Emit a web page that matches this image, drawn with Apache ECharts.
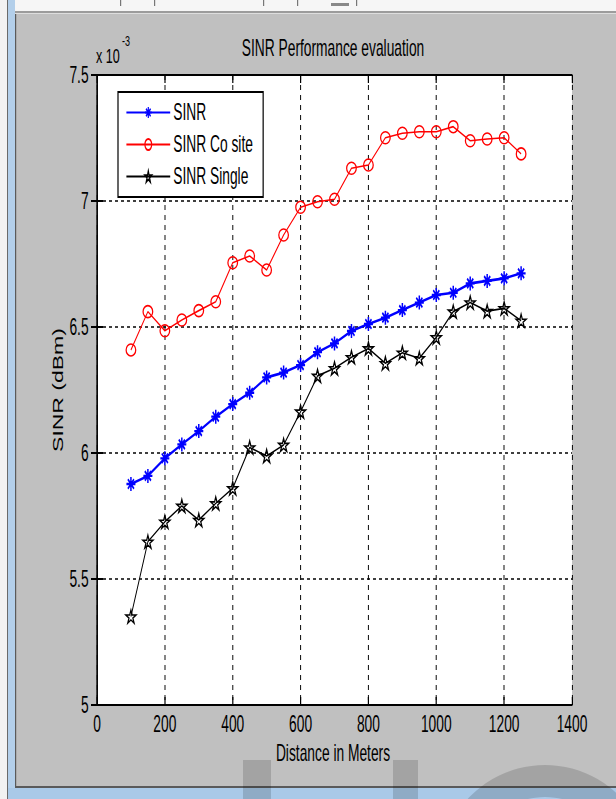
<!DOCTYPE html>
<html>
<head>
<meta charset="utf-8">
<script src="https://cdn.jsdelivr.net/npm/echarts@6/dist/echarts.min.js"></script>
<style>
html, body { margin: 0; padding: 0; overflow: hidden; background: #c0c0c0; width: 616px; height: 799px; }
#chart { width: 1027px; height: 799px; transform: scaleX(0.6); transform-origin: 0 0; }
</style>
</head>
<body>
<div id="chart"></div>
<script>
// ---- data (values are in units of 1e-3) ----
const distances = [100, 150, 200, 250, 300, 350, 400, 450, 500, 550, 600, 650, 700, 750, 800, 850, 900, 950, 1000, 1050, 1100, 1150, 1200, 1250];
const sinr       = [5.877, 5.909, 5.979, 6.034, 6.087, 6.144, 6.194, 6.239, 6.300, 6.319, 6.349, 6.400, 6.435, 6.484, 6.512, 6.537, 6.567, 6.597, 6.627, 6.636, 6.673, 6.683, 6.693, 6.713];
const sinrCoSite = [6.409, 6.561, 6.485, 6.528, 6.565, 6.600, 6.755, 6.782, 6.726, 6.865, 6.975, 6.997, 7.007, 7.130, 7.143, 7.251, 7.269, 7.275, 7.275, 7.295, 7.239, 7.246, 7.251, 7.187];
const sinrSingle = [5.351, 5.648, 5.727, 5.790, 5.734, 5.800, 5.860, 6.022, 5.988, 6.032, 6.164, 6.306, 6.336, 6.380, 6.415, 6.356, 6.398, 6.376, 6.459, 6.561, 6.597, 6.563, 6.574, 6.525];
const seriesNames = ['SINR', 'SINR Co site', 'SINR Single'];
const xMin = 0, xMax = 1400, xStep = 200;
const yMin = 5, yMax = 7.5, yStep = 0.5;
const titleText = 'SINR Performance evaluation';
const xName = 'Distance in Meters';
const yName = 'SINR (dBm)';

// ---- drawing ----
const K = 0.6; // horizontal compression applied by CSS
const FONT = '"Liberation Sans", Arial, Helvetica, sans-serif';
const X = v => v / K;

const asterisk = 'path://M5,0 L5,10 M0,5 L10,5 M1.6,1.6 L8.4,8.4 M1.6,8.4 L8.4,1.6';
const ellipse = 'path://M10,0 A10,10 0 1,1 10,20 A10,10 0 1,1 10,0 Z';
const star = 'path://M10,0 L12.245,6.91 L19.51,6.91 L13.63,11.18 L15.88,18.09 L10,13.82 L4.12,18.09 L6.37,11.18 L0.49,6.91 L7.755,6.91 Z';

const pairs = arr => distances.map((d, i) => [d, arr[i]]);
const dash = [5, 5];
const plain = v => String(v);

const chart = echarts.init(document.getElementById('chart'), null, { renderer: 'svg' });

chart.setOption({
  animation: false,
  backgroundColor: '#c0c0c0',
  grid: { left: X(97), right: 1027 - X(572), top: 75, bottom: 94, show: true, backgroundColor: '#fff', borderWidth: 0 },
  legend: {
    data: seriesNames,
    orient: 'vertical',
    left: X(118), top: 92,
    backgroundColor: '#fff', borderColor: '#000', borderWidth: 2,
    padding: [9, 17, 9, 13],
    itemWidth: 73, itemHeight: 14, itemGap: 9,
    textStyle: { fontFamily: FONT, fontSize: 23, color: '#000' }
  },
  xAxis: [
    {
      type: 'value', min: xMin, max: xMax, interval: xStep, position: 'bottom',
      axisLine: { show: true, lineStyle: { color: '#000', width: 2 } },
      axisTick: { show: true, inside: true, length: 8, lineStyle: { color: '#000', width: 2 } },
      axisLabel: { color: '#000', fontFamily: FONT, fontSize: 23, margin: 8, formatter: plain },
      splitLine: { show: true, lineStyle: { color: '#000', width: 1.6, type: dash } }
    },
    {
      type: 'value', min: xMin, max: xMax, interval: xStep, position: 'top',
      axisLine: { show: true, lineStyle: { color: '#000', width: 2 } },
      axisTick: { show: true, inside: true, length: 8, lineStyle: { color: '#000', width: 2 } },
      axisLabel: { show: false }, splitLine: { show: false }
    }
  ],
  yAxis: [
    {
      type: 'value', min: yMin, max: yMax, interval: yStep, position: 'left',
      axisLine: { show: true, lineStyle: { color: '#000', width: 2 } },
      axisTick: { show: true, inside: true, length: 10, lineStyle: { color: '#000', width: 2 } },
      axisLabel: { color: '#000', fontFamily: FONT, fontSize: 23, margin: 14, formatter: plain },
      splitLine: { show: true, lineStyle: { color: '#000', width: 1.6, type: dash } }
    },
    {
      type: 'value', min: yMin, max: yMax, interval: yStep, position: 'right',
      axisLine: { show: true, lineStyle: { color: '#000', width: 2 } },
      axisTick: { show: true, inside: true, length: 10, lineStyle: { color: '#000', width: 2 } },
      axisLabel: { show: false }, splitLine: { show: false }
    }
  ],
  series: [
    {
      name: seriesNames[0], type: 'line', data: pairs(sinr), showAllSymbol: true,
      symbol: asterisk, symbolSize: [15, 14],
      lineStyle: { color: '#0000ff', width: 2.6 },
      itemStyle: { color: 'rgba(0,0,0,0)', borderColor: '#0000ff', borderWidth: 2.4 },
      z: 3
    },
    {
      name: seriesNames[1], type: 'line', data: pairs(sinrCoSite), showAllSymbol: true,
      symbol: ellipse, symbolSize: [16, 12],
      lineStyle: { color: '#ff0000', width: 1.6 },
      itemStyle: { color: 'rgba(0,0,0,0)', borderColor: '#ff0000', borderWidth: 1.8 },
      z: 3
    },
    {
      name: seriesNames[2], type: 'line', data: pairs(sinrSingle), showAllSymbol: true,
      symbol: star, symbolSize: [17, 13],
      lineStyle: { color: '#000000', width: 1.6 },
      itemStyle: { color: 'rgba(0,0,0,0)', borderColor: '#000000', borderWidth: 1.8 },
      z: 3
    }
  ],
  graphic: [
    // window frame pieces
    { type: 'rect', shape: { x: 0, y: 0, width: 1027, height: 11 }, style: { fill: '#f6f6f6' } },
    { type: 'rect', shape: { x: 0, y: 11, width: 1027, height: 2 }, style: { fill: '#9c9c9c' } },
    { type: 'rect', shape: { x: 0, y: 13, width: 1027, height: 1 }, style: { fill: '#dedede' } },
    { type: 'rect', shape: { x: X(120), y: 0, width: 2, height: 6 }, style: { fill: '#777' } },
    { type: 'rect', shape: { x: X(154), y: 0, width: 2, height: 6 }, style: { fill: '#777' } },
    { type: 'rect', shape: { x: X(263), y: 0, width: 2, height: 6 }, style: { fill: '#777' } },
    { type: 'rect', shape: { x: X(297), y: 0, width: 2, height: 6 }, style: { fill: '#777' } },
    { type: 'rect', shape: { x: X(331), y: 3, width: X(18), height: 3 }, style: { fill: '#888' } },
    { type: 'rect', shape: { x: X(356), y: 0, width: 2, height: 6 }, style: { fill: '#777' } },
    { type: 'rect', shape: { x: 0, y: 0, width: X(7), height: 799 }, style: { fill: '#f2f2f2' } },
    { type: 'rect', shape: { x: X(7), y: 0, width: X(1), height: 799 }, style: { fill: '#6a6a6a' } },
    { type: 'rect', shape: { x: X(8), y: 0, width: X(7), height: 799 }, style: { fill: '#b3cfea' } },
    { type: 'rect', shape: { x: X(15), y: 14, width: X(1.2), height: 773 }, style: { fill: '#5a5a5a' } },
    { type: 'rect', shape: { x: X(15), y: 786, width: 1027, height: 2 }, style: { fill: '#5a5a5a' } },
    { type: 'rect', shape: { x: X(8), y: 788, width: 1027, height: 11 }, style: { fill: '#a9c9e8' } },
    // faint watermark shapes
    { type: 'rect', shape: { x: X(243), y: 760, width: X(28), height: 39 }, style: { fill: 'rgba(0,0,0,0.15)' }, z: 10 },
    { type: 'rect', shape: { x: X(393), y: 760, width: X(25), height: 39 }, style: { fill: 'rgba(0,0,0,0.15)' }, z: 10 },
    { type: 'ring', x: X(545), y: 870, scaleX: 1 / K, shape: { cx: 0, cy: 0, r: 105, r0: 73 }, style: { fill: 'rgba(0,0,0,0.15)' }, z: 10 },
    // texts
    { type: 'text', x: X(333), y: 48, style: { text: titleText, fontFamily: FONT, fontSize: 23, fill: '#000', align: 'center', verticalAlign: 'middle' } },
    { type: 'text', x: X(96), y: 56, style: { text: 'x 10', fontFamily: FONT, fontSize: 21, fill: '#000', align: 'left', verticalAlign: 'middle' } },
    { type: 'text', x: X(122), y: 41, style: { text: '-3', fontFamily: FONT, fontSize: 15, fill: '#000', align: 'left', verticalAlign: 'middle' } },
    { type: 'text', x: X(333), y: 753, style: { text: xName, fontFamily: FONT, fontSize: 23, fill: '#000', align: 'center', verticalAlign: 'middle' } },
    { type: 'text', x: X(58), y: 390, rotation: Math.PI / 2, style: { text: yName, fontFamily: FONT, fontSize: 23, fill: '#000', align: 'center', verticalAlign: 'middle' } }
  ]
});
</script>
</body>
</html>
